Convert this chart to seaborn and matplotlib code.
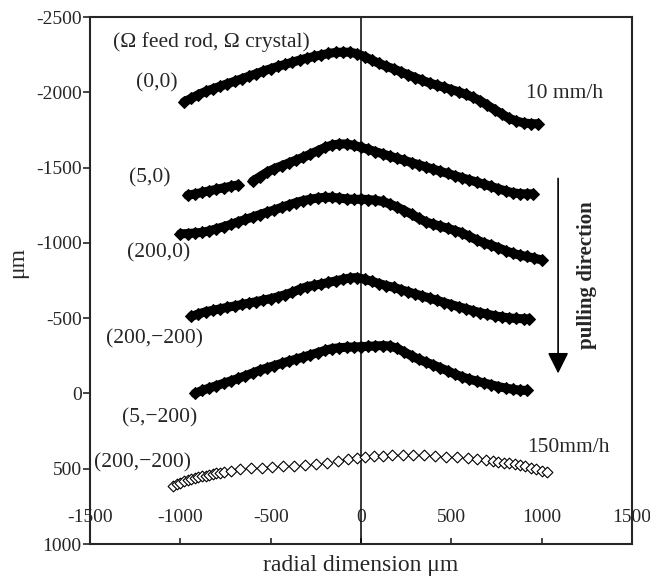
import pandas as pd
import seaborn as sns
import matplotlib.pyplot as plt

# Curvas de la interfase (10 mm/h)
x_00 = [-980, -940, -900, -860, -820, -780, -740, -700, -660, -620, -580, -540, -500,
        -460, -420, -380, -340, -300, -260, -220, -180, -140, -100, -60, -20, 20, 60,
        100, 140, 180, 220, 260, 300, 340, 380, 420, 460, 500, 540, 580, 620, 660, 700,
        740, 780, 820, 860, 900, 940, 980]
y_00 = [-1936, -1960, -1985, -2006, -2023, -2040, -2057, -2073, -2090, -2107, -2124,
        -2141, -2157, -2172, -2186, -2200, -2214, -2227, -2238, -2248, -2258, -2265,
        -2267, -2266, -2256, -2237, -2214, -2192, -2173, -2156, -2136, -2117, -2098,
        -2079, -2062, -2047, -2033, -2018, -2004, -1986, -1967, -1944, -1914, -1885,
        -1856, -1827, -1810, -1797, -1792, -1791]

x_50a = [-960, -920, -880, -840, -800, -760, -720, -680]
y_50a = [-1316, -1325, -1335, -1346, -1356, -1366, -1376, -1385]
x_50b = [-600, -560, -520, -480, -440, -400, -360, -320, -280, -240, -200, -160, -120,
         -80, -40, 0, 40, 80, 120, 160, 200, 240, 280, 320, 360, 400, 440, 480, 520,
         560, 600, 640, 680, 720, 760, 800, 840, 880, 920, 950]
y_50b = [-1410, -1440, -1470, -1493, -1512, -1531, -1550, -1569, -1590, -1612, -1634,
         -1650, -1657, -1657, -1648, -1635, -1621, -1606, -1591, -1576, -1562, -1548,
         -1533, -1519, -1504, -1490, -1475, -1461, -1446, -1432, -1418, -1404, -1390,
         -1375, -1360, -1345, -1333, -1327, -1325, -1326]

x_2000 = [-1000, -960, -920, -880, -840, -800, -760, -720, -680, -640, -600, -560,
          -520, -480, -440, -400, -360, -320, -280, -240, -200, -160, -120, -80, -40,
          0, 40, 80, 120, 160, 200, 240, 280, 320, 360, 400, 440, 480, 520, 560, 600,
          640, 680, 720, 760, 800, 840, 880, 920, 960, 1000]
y_2000 = [-1060, -1062, -1066, -1070, -1080, -1094, -1108, -1123, -1140, -1156, -1172,
          -1188, -1204, -1219, -1236, -1252, -1268, -1281, -1290, -1298, -1303, -1302,
          -1298, -1292, -1289, -1290, -1288, -1283, -1275, -1258, -1238, -1215, -1190,
          -1163, -1139, -1124, -1111, -1097, -1082, -1066, -1043, -1020, -1000, -985,
          -968, -948, -932, -918, -910, -898, -887]

x_200m200 = [-940, -900, -860, -820, -780, -740, -700, -660, -620, -580, -540, -500,
             -460, -420, -380, -340, -300, -260, -220, -180, -140, -100, -60, -20, 20,
             60, 100, 140, 180, 220, 260, 300, 340, 380, 420, 460, 500, 540, 580, 620,
             660, 700, 740, 780, 820, 860, 900, 930]
y_200m200 = [-512, -528, -543, -552, -562, -572, -581, -591, -600, -610, -620, -630,
             -642, -656, -672, -692, -709, -718, -727, -737, -748, -758, -767, -770,
             -758, -745, -730, -716, -705, -690, -675, -661, -647, -633, -619, -604,
             -590, -576, -563, -549, -537, -526, -516, -508, -502, -498, -496, -496]

x_5m200 = [-920, -880, -840, -800, -760, -720, -680, -640, -600, -560, -520, -480, -440,
           -400, -360, -320, -280, -240, -200, -160, -120, -80, -40, 0, 40, 80, 120,
           160, 200, 240, 280, 320, 360, 400, 440, 480, 520, 560, 600, 640, 680, 720,
           760, 800, 840, 880, 920]
y_5m200 = [0, -20, -36, -52, -68, -84, -100, -118, -136, -154, -170, -185, -200, -214,
           -228, -242, -256, -271, -286, -298, -304, -307, -309, -311, -313, -316, -318,
           -315, -300, -275, -250, -226, -208, -190, -170, -150, -128, -110, -95, -82,
           -70, -58, -46, -36, -28, -22, -20]

# Curva a 150 mm/h, (200,-200)
x_150 = [-1040, -1020, -1000, -980, -960, -940, -920, -900, -880, -860, -840, -820, -800,
         -780, -760, -720, -670, -610, -550, -490, -430, -370, -310, -250, -190, -130,
         -70, -20, 20, 70, 120, 170, 230, 290, 350, 410, 470, 530, 590, 640, 690, 730,
         760, 790, 820, 850, 880, 910, 940, 970, 1000, 1030]
y_150 = [612, 600, 592, 583, 576, 569, 562, 556, 550, 545, 540, 535, 530, 525, 521, 513,
         505, 498, 492, 487, 483, 480, 476, 470, 460, 448, 437, 426, 421, 417, 413, 411,
         410, 411, 412, 415, 419, 424, 430, 434, 439, 446, 452, 459, 465, 470, 477, 485,
         494, 503, 512, 520]

sns.set_style("ticks")
plt.rcParams["font.family"] = ["Liberation Serif", "DejaVu Serif"]
plt.rcParams["axes.unicode_minus"] = False

tramos = [("(0,0)", x_00, y_00), ("(5,0)a", x_50a, y_50a), ("(5,0)b", x_50b, y_50b),
          ("(200,0)", x_2000, y_2000), ("(200,-200)", x_200m200, y_200m200),
          ("(5,-200)", x_5m200, y_5m200)]
df = pd.concat([pd.DataFrame({"x": xs, "y": ys, "tramo": n}) for n, xs, ys in tramos],
               ignore_index=True)
df_rapido = pd.DataFrame({"x": x_150, "y": y_150})

fig = plt.figure(figsize=(6.5, 5.79), dpi=100)
ax = fig.add_axes([0.1385, 0.0604, 0.8338, 0.9102])

ax.axvline(0, color="black", lw=1.1, zorder=1)
sns.lineplot(data=df, x="x", y="y", units="tramo", estimator=None, sort=False,
             color="black", lw=6.5, marker="D", markersize=6,
             markeredgecolor="black", ax=ax, zorder=2)
sns.scatterplot(data=df_rapido, x="x", y="y", marker="D", s=30, facecolor="white",
                edgecolor="black", linewidth=0.8, ax=ax, zorder=3)

ax.set_xlim(-1500, 1500)
ax.set_ylim(1000, -2500)
ax.set_xticks([-1500, -1000, -500, 0, 500, 1000, 1500])
ax.set_yticks([-2500, -2000, -1500, -1000, -500, 0, 500, 1000])
ax.tick_params(axis="x", direction="in", length=4, width=1.2, pad=-25, labelsize=14)
ax.tick_params(axis="y", direction="out", length=5, width=1.2, pad=1, labelsize=14)
for sp in ax.spines.values():
    sp.set_linewidth(1.5)
    sp.set_visible(True)

ax.set_xlabel("radial dimension μm", fontsize=17)
ax.set_ylabel("μm", fontsize=17)
ax.xaxis.set_label_coords(0.5, -0.02)
ax.yaxis.set_label_coords(-0.114, 0.535)

fs = 15.5
ax.text(-830, -2331, "(Ω feed rod, Ω crystal)", ha="center", va="center", fontsize=fs)
ax.text(-1130, -2065, "(0,0)", ha="center", va="center", fontsize=fs)
ax.text(-1168, -1434, "(5,0)", ha="center", va="center", fontsize=fs)
ax.text(-1118, -936, "(200,0)", ha="center", va="center", fontsize=fs)
ax.text(-1141, -365, "(200,−200)", ha="center", va="center", fontsize=fs)
ax.text(-1113, 159, "(5,−200)", ha="center", va="center", fontsize=fs)
ax.text(-1212, 458, "(200,−200)", ha="center", va="center", fontsize=fs)
ax.text(1124, -1992, "10 mm/h", ha="center", va="center", fontsize=fs)
ax.text(1146, 359, "150mm/h", ha="center", va="center", fontsize=fs)
ax.text(1251, -784, "pulling direction", ha="center", va="center", rotation=90,
        fontsize=15, fontweight="bold")
ax.annotate("", xy=(1091, -133), xytext=(1091, -1428),
            arrowprops=dict(arrowstyle="-|>,head_length=0.4,head_width=0.2",
                            color="black", lw=1.2, mutation_scale=32,
                            shrinkA=0, shrinkB=0))

fig.savefig("out.png", dpi=100)
